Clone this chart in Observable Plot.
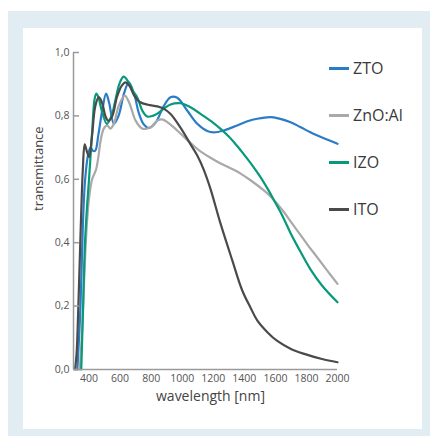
<!DOCTYPE html>
<html><head><meta charset="utf-8">
<script src="https://cdn.jsdelivr.net/npm/d3@7"></script>
<script src="https://cdn.jsdelivr.net/npm/@observablehq/plot@0.6"></script>
<style>
html,body{margin:0;padding:0;background:#fff;}
#wrap{position:relative;width:430px;height:436px;overflow:hidden;font-family:"Open Sans",sans-serif;}
#outer{position:absolute;left:8px;top:11px;width:422px;height:425px;background:#e2ecf3;}
#inner{position:absolute;left:23px;top:28px;width:399px;height:401px;background:#fff;}
#chart{position:absolute;left:0;top:0;}
.leg{position:absolute;left:329px;height:20px;display:flex;align-items:center;font-size:16px;color:#3a3a3a;}
.leg span.sw{display:inline-block;width:20px;height:3px;margin-right:4px;}
</style></head>
<body>
<div id="wrap"><div id="outer"></div><div id="inner"></div><div id="chart"></div><div id="legend"></div></div>
<script>
const seriesNames = ["ZTO", "ZnO:Al", "IZO", "ITO"];
const seriesColors = ["#2b7cc6", "#a9a9a9", "#06997a", "#4a4a4a"];

const ztoWl = [325,345,360,375,395,410,425,440,460,485,510,530,560,590,625,656,690,720,750,785,830,880,925,968,1032,1097,1161,1204,1268,1354,1420,1483,1569,1620,1698,1760,1848,1920,2000];
const ztoT  = [0,0.2,0.45,0.6,0.68,0.70,0.69,0.69,0.74,0.817,0.87,0.84,0.775,0.80,0.87,0.906,0.87,0.81,0.775,0.762,0.78,0.83,0.859,0.857,0.817,0.775,0.752,0.748,0.754,0.77,0.783,0.791,0.796,0.792,0.78,0.765,0.743,0.728,0.712];

const znoWl = [340,355,370,385,400,420,445,460,474,495,517,538,560,590,630,660,700,742,764,800,840,871,910,968,1020,1075,1120,1182,1247,1311,1376,1440,1526,1569,1650,1698,1741,1805,1869,1934,2000];
const znoT  = [0,0.12,0.3,0.45,0.54,0.6,0.63,0.67,0.72,0.76,0.77,0.76,0.775,0.83,0.864,0.84,0.785,0.76,0.759,0.765,0.785,0.789,0.778,0.754,0.73,0.705,0.687,0.668,0.65,0.635,0.618,0.597,0.565,0.546,0.5,0.467,0.438,0.395,0.354,0.312,0.27];

const izoWl = [350,362,374,388,400,420,435,446,460,480,515,545,570,595,622,650,680,710,745,775,810,840,880,925,989,1050,1137,1200,1247,1300,1354,1395,1450,1500,1556,1590,1640,1698,1741,1827,1900,2000];
const izoT  = [0,0.2,0.4,0.52,0.6,0.75,0.85,0.87,0.86,0.82,0.775,0.8,0.85,0.9,0.924,0.91,0.88,0.859,0.815,0.798,0.8,0.807,0.822,0.836,0.84,0.828,0.8,0.778,0.759,0.735,0.705,0.68,0.645,0.61,0.565,0.535,0.49,0.43,0.39,0.315,0.265,0.212];

const itoWl = [310,320,330,340,350,360,372,385,400,420,440,463,485,505,523,550,580,610,635,660,690,730,780,840,880,925,989,1054,1097,1139,1182,1247,1322,1386,1440,1483,1550,1612,1700,1781,1900,2000];
const itoT  = [0,0.05,0.18,0.34,0.5,0.63,0.71,0.69,0.67,0.74,0.83,0.859,0.84,0.8,0.785,0.8,0.86,0.895,0.906,0.895,0.865,0.843,0.835,0.83,0.823,0.806,0.763,0.71,0.675,0.63,0.57,0.46,0.345,0.25,0.195,0.155,0.117,0.09,0.065,0.05,0.033,0.023];

const xTicks = [400,600,800,1000,1200,1400,1600,1800,2000];
const yTicks = [0,0.2,0.4,0.6,0.8,1.0];

const seriesWl = [ztoWl, znoWl, izoWl, itoWl];
const seriesT = [ztoT, znoT, izoT, itoT];
const data = [];
seriesNames.forEach((name, i) => {
  seriesWl[i].forEach((w, j) => data.push({series: name, wl: w, t: seriesT[i][j]}));
});
const comma = d => d3.format(".1f")(d).replace(".", ",");

const chart = Plot.plot({
  width: 430,
  height: 436,
  marginLeft: 73,
  marginRight: 93,
  marginTop: 52,
  marginBottom: 67,
  style: {background: "transparent", fontFamily: "'Open Sans', sans-serif", overflow: "visible"},
  x: {domain: [300, 2000]},
  y: {domain: [0, 1]},
  color: {domain: seriesNames, range: seriesColors},
  marks: [
    Plot.line(data, {x: "wl", y: "t", z: "series", stroke: "series", strokeWidth: 2.2, curve: "catmull-rom"}),
    Plot.ruleX([300], {stroke: "#9a9a9a", strokeWidth: 1.5}),
    Plot.ruleY([0], {stroke: "#9a9a9a", strokeWidth: 1.5}),
    Plot.axisY({ticks: yTicks, tickSize: 6, dx: 6, tickFormat: () => "", stroke: "#9a9a9a", strokeWidth: 1.5, label: null}),
    Plot.axisY({ticks: yTicks, tickSize: 0, tickPadding: 4, tickFormat: comma, fontSize: 10.5, fill: "#555", label: null}),
    Plot.axisX({ticks: xTicks, tickSize: 0, tickPadding: 5, tickFormat: d => String(d), fontSize: 10.5, fill: "#555", label: null}),
    Plot.text(["transmittance"], {frameAnchor: "left", rotate: -90, dx: -35, fontSize: 13, fill: "#444"}),
    Plot.text(["wavelength [nm]"], {frameAnchor: "bottom", dx: 5, dy: 31, fontSize: 14, fill: "#444"})
  ]
});
document.getElementById("chart").appendChild(chart);

const legendY = [68, 115, 162, 209];
const leg = document.getElementById("legend");
seriesNames.forEach((n, i) => {
  const d = document.createElement("div");
  d.className = "leg";
  d.style.top = (legendY[i] - 10) + "px";
  d.innerHTML = `<span class="sw" style="background:${seriesColors[i]}"></span>${n}`;
  leg.appendChild(d);
});
</script>
</body></html>
